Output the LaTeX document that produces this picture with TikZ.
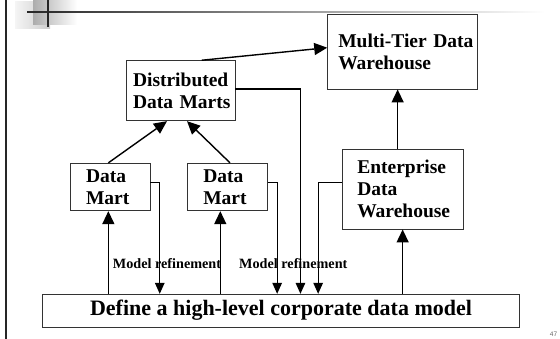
\documentclass[tikz,border=0pt]{standalone}
\usepackage{fontspec}
\setmainfont{Liberation Serif}
\setsansfont{Liberation Sans}
\usetikzlibrary{arrows.meta}

\begin{document}
\begin{tikzpicture}[x=1pt,y=-1pt,
    box/.style={draw=black!80,line width=0.9pt,inner sep=0pt,align=left,
      font=\bfseries\fontsize{19.5}{22}\selectfont},
    upflow/.style={line width=1.4pt,-{Triangle[length=13pt,width=12pt]}},
    refine/.style={line width=1.3pt,-{Triangle[length=11pt,width=9.5pt]}},
    refnote/.style={anchor=base,font=\bfseries\fontsize{14.2}{16}\selectfont}]
    \useasboundingbox (0,0) rectangle (560,339);

    % slide decoration
    \fill[black!85] (4.7,0) rectangle (7.3,339);
    \shade[left color=gray!8,right color=gray!40] (15,1.7) rectangle (50,28.3);
    \shade[left color=gray!65,right color=white] (33,0) rectangle (77,25);
    \shade[left color=black!85,right color=white] (27,11.2) rectangle (545,12.8);
    \fill[black!85] (46.7,0) rectangle (49.3,27.3);

    % boxes
    \node[box,minimum width=149.6pt,minimum height=75pt,text width=128.4pt] (tierDW) at (402.5,51.5) {\mbox{Multi-Tier Data}\\Warehouse};
    \node[box,minimum width=108.3pt,minimum height=60pt,text width=95.7pt] (distMarts) at (180.85,90.7) {\mbox{Distributed}\\\mbox{Data Marts}};
    \node[box,minimum width=79.3pt,minimum height=47.4pt,text width=48.7pt] (martA) at (110.35,187) {Data\\Mart};
    \node[box,minimum width=79.6pt,minimum height=47.4pt,text width=48.4pt] (martB) at (227.5,187) {Data\\Mart};
    \node[box,minimum width=121.3pt,minimum height=79.7pt,text width=90.7pt] (entDW) at (402.65,189.15) {\mbox{Enterprise}\\Data\\\mbox{Warehouse}};
    \node[draw=black!80,line width=0.9pt,minimum width=476.6pt,minimum height=32.7pt,
      font=\bfseries\fontsize{22}{24}\selectfont] (corpModel) at (281,310.65) {Define a high-level corporate data model};

    \node[refnote] (refineA) at (167,268.3) {Model refinement};
    \node[refnote] (refineB) at (293.3,268.3) {Model refinement};
    \node[font=\sffamily\fontsize{6.5}{7}\selectfont,text=black!60] (pageNo) at (553.5,334.5) {47};

    % bottom-up
    \draw[upflow] ([xshift=20.85pt]distMarts.north) -- ([yshift=3.8pt]tierDW.west);
    \draw[upflow] ([xshift=-2pt]martA.north) -- ([xshift=-13.85pt]distMarts.south);
    \draw[upflow] ([xshift=2.5pt]martB.north) -- ([xshift=6.15pt]distMarts.south);
    \coordinate (edwTop) at ([xshift=-5pt]entDW.north);
    \draw[upflow] (edwTop) -- (edwTop |- tierDW.south);

    \coordinate (footA) at ([xshift=-2pt]martA.south);
    \coordinate (footB) at ([xshift=-7.2pt]martB.south);
    \draw[upflow] (footA |- corpModel.north) -- (footA);
    \draw[upflow] (footB |- corpModel.north) -- (footB);
    \draw[upflow] (entDW.south |- corpModel.north) -- (entDW.south);

    % model refinement
    \coordinate (dropA) at ([yshift=4.7pt]martA.east);
    \coordinate (turnA) at ([xshift=9.3pt]dropA);
    \coordinate (dropB) at ([yshift=4.7pt]martB.east);
    \coordinate (turnB) at ([xshift=9.4pt]dropB);
    \coordinate (dropC) at ([yshift=1.7pt]distMarts.east);
    \coordinate (turnC) at ([xshift=65pt]dropC);
    \coordinate (dropD) at ([yshift=6.85pt]entDW.west);
    \coordinate (turnD) at ([xshift=-23.4pt]dropD);
    \draw[refine] (dropA) -- (turnA) -- (turnA |- corpModel.north);
    \draw[refine] (dropB) -- (turnB) -- (turnB |- corpModel.north);
    \draw[refine] (dropC) -- (turnC) -- (turnC |- corpModel.north);
    \draw[refine] (dropD) -- (turnD) -- (turnD |- corpModel.north);

\end{tikzpicture}
\end{document}
